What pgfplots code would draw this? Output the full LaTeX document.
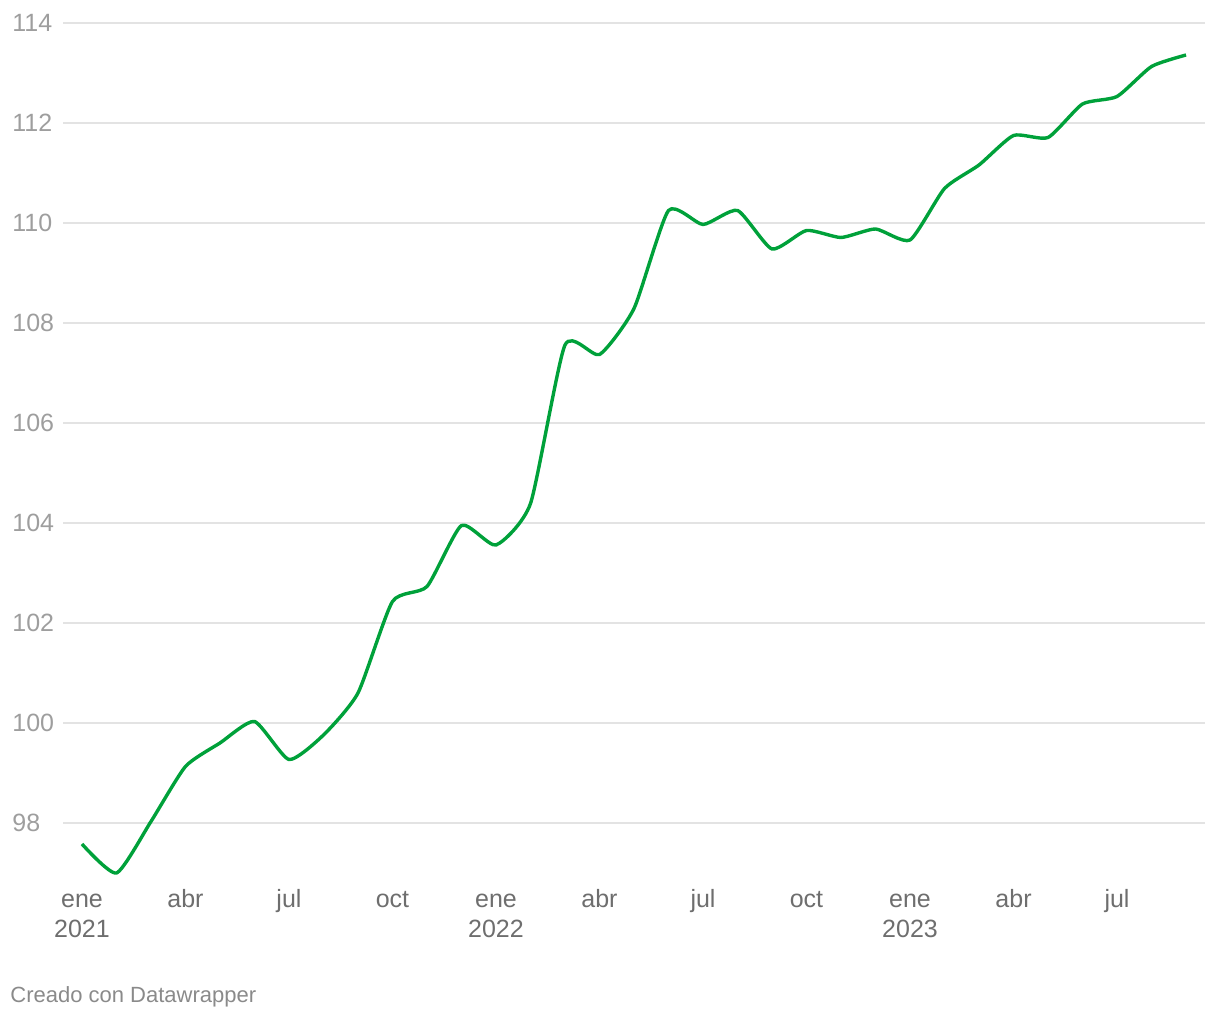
\documentclass[border=0pt]{standalone}
\usepackage{pgfplots}
\usepackage{fontspec}
\pgfplotsset{compat=1.18}
\setmainfont{Liberation Sans}
\definecolor{lineGreen}{HTML}{00A13A}
\definecolor{gridGray}{HTML}{E3E3E3}
\definecolor{yLab}{HTML}{9E9E9E}
\definecolor{xLab}{HTML}{6E6E6E}
\definecolor{credit}{HTML}{8A8A8A}

\begin{document}
\begin{tikzpicture}
  \begin{axis}[
    width=571pt, height=427.5pt,
    scale only axis,
    xmin=-0.55, xmax=32.55,
    ymin=96.9, ymax=114,
    axis line style={draw=none},
    major tick length=0pt,
    ytick={98,100,...,114},
    xtick={0,3,...,30},
    xticklabels={\strut ene\\2021, \strut abr, \strut jul, \strut oct, \strut ene\\2022, \strut abr, \strut jul, \strut oct, \strut ene\\2023, \strut abr, \strut jul},
    ymajorgrids,
    grid style={draw=gridGray, line width=0.75pt},
    /pgf/number format/assume math mode=true,
    yticklabel style={font=\fontsize{12.5}{14}\selectfont, text=yLab, anchor=west, inner sep=0pt, xshift=-25.5pt},
    xticklabel style={font=\fontsize{12.5}{15}\selectfont, text=xLab, align=center, inner sep=0pt, yshift=-4pt},
    clip=false,
  ]
    % monthly index, ene 2021 = 0
    \addplot[lineGreen, line width=1.7pt, smooth, tension=0.35] coordinates {
      (0,97.58) (1,97.00) (2,98.03) (3,99.13) (4,99.60) (5,100.03)
      (6,99.27) (7,99.76) (8,100.60) (9,102.43) (10,102.73) (11,103.95)
      (12,103.56) (13,104.39) (14,107.56) (15,107.37) (16,108.29) (17,110.25)
      (18,109.97) (19,110.25) (20,109.48) (21,109.85) (22,109.71) (23,109.88)
      (24,109.66) (25,110.69) (26,111.16) (27,111.75) (28,111.71) (29,112.38)
      (30,112.53) (31,113.13) (32,113.36)
    };
  \end{axis}
  \node[anchor=west, inner sep=0pt, text=credit, font=\fontsize{11}{13}\selectfont]
    at ([xshift=-26.5pt, yshift=-59.5pt]current axis.south west) {Creado con Datawrapper};
  \path[use as bounding box] ([xshift=-31.5pt, yshift=-71pt]current axis.south west) rectangle ++(610pt,510pt);
\end{tikzpicture}
\end{document}
